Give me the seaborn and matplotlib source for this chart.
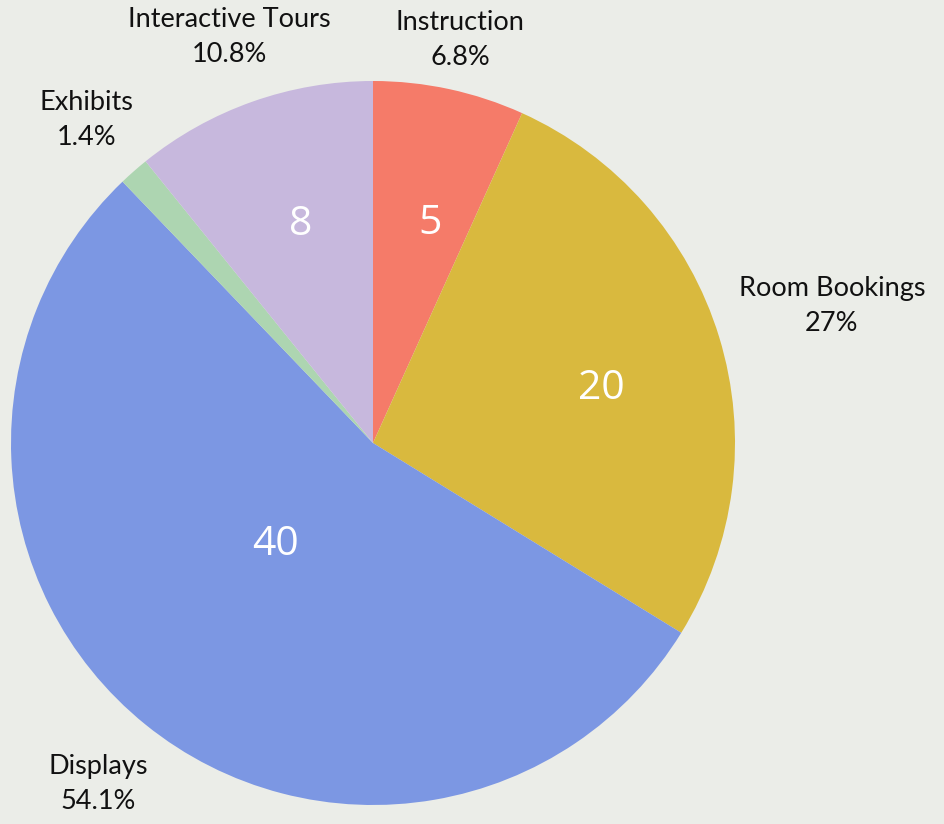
import numpy as np
import matplotlib
matplotlib.use("Agg")
import matplotlib.pyplot as plt
import seaborn as sns

categories = ["Instruction", "Room Bookings", "Displays", "Exhibits", "Interactive Tours"]
values = [5, 20, 40, 1, 8]
pct_labels = ["6.8%", "27%", "54.1%", "1.4%", "10.8%"]
inner_labels = ["5", "20", "40", "", "8"]
colors = ["#F57B69", "#D9B93E", "#7C97E3", "#ADD5B1", "#C7B8DD"]

# label placement (fractions of radius), styling
outer_dist = [1.14, 1.323, 1.21, 1.193, 1.19]
outer_angle_shift = [0, -0.43, 0, 0.25, 0]
inner_dist = [0.625, 0.65, 0.39, 0.6, 0.635]
inner_angle_shift = [-2.5, -3.6, -5, 0, -1.1]

sns.set_theme(style="white")
plt.rcParams["font.family"] = ["Lato", "DejaVu Sans"]
bg = "#EBEDE8"

fig = plt.figure(figsize=(9.44, 8.24), dpi=100, facecolor=bg)
ax = fig.add_axes([0, 0, 1, 1])
ax.set_facecolor(bg)
R = 362
cx, cy = 373, 824 - 443

wedges, _ = ax.pie(values, colors=colors, startangle=90, counterclock=False,
                   radius=R, center=(0, 0), wedgeprops=dict(linewidth=0))
ax.set_xlim(-cx, 944 - cx)
ax.set_ylim(-cy, 824 - cy)
ax.set_aspect("equal")
ax.axis("off")

total = sum(values)
cum = 0
for i, v in enumerate(values):
    mid = 90 - (cum + v / 2) / total * 360
    cum += v
    a = np.deg2rad(mid + outer_angle_shift[i])
    ox, oy = np.cos(a) * R * outer_dist[i], np.sin(a) * R * outer_dist[i]
    ax.text(ox, oy, f"{categories[i]}\n{pct_labels[i]}", ha="center", va="center",
            fontsize=19.5, color="#111111", linespacing=1.5)
    if inner_labels[i]:
        b = np.deg2rad(mid + inner_angle_shift[i])
        ix, iy = np.cos(b) * R * inner_dist[i], np.sin(b) * R * inner_dist[i]
        ax.text(ix, iy, inner_labels[i], ha="center", va="center", fontsize=29.5,
                color="white", family=["Open Sans", "DejaVu Sans"])

fig.savefig("out.png", dpi=100, facecolor=bg)
